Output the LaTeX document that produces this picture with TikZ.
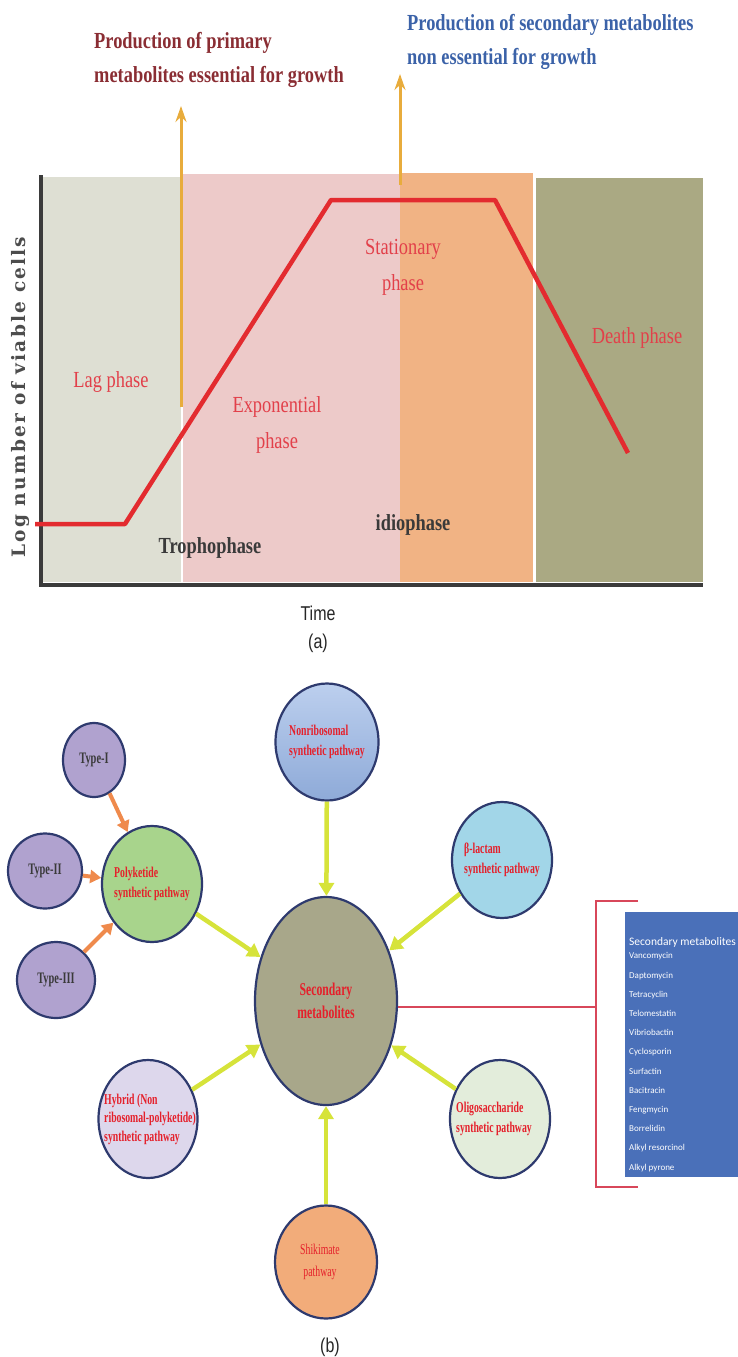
\documentclass[tikz,border=0pt]{standalone}
\usepackage{fontspec}
\usetikzlibrary{arrows.meta, shapes.geometric, calc}

\newfontfamily\headserif[FakeStretch=0.8]{Liberation Serif}
\newfontfamily\bubbleserif[FakeStretch=0.65]{Liberation Serif}
\newfontfamily\axisserif[LetterSpace=12]{DejaVu Serif}
\newfontfamily\captionsans[FakeStretch=0.8]{Liberation Sans}
\newfontfamily\listsans{Carlito}

\definecolor{lagfill}{HTML}{DEDFD3}
\definecolor{expfill}{HTML}{EDCAC9}
\definecolor{statfill}{HTML}{F1B384}
\definecolor{deathfill}{HTML}{AAA983}
\definecolor{axisgray}{HTML}{3B3B3B}
\definecolor{curvered}{HTML}{E32B2F}
\definecolor{arrowgold}{HTML}{E8AC3C}
\definecolor{primred}{HTML}{8A2D33}
\definecolor{secblue}{HTML}{3B62A8}
\definecolor{phasered}{HTML}{E2404A}
\definecolor{stagegray}{HTML}{3A3A3A}
\definecolor{axislabel}{HTML}{4D4D4D}
\definecolor{bubbleedge}{HTML}{2E3A6E}
\definecolor{bubblered}{HTML}{E5202B}
\definecolor{typegray}{HTML}{3A3A3A}
\definecolor{typefill}{HTML}{B0A2CF}
\definecolor{polyfill}{HTML}{A8D48C}
\definecolor{nonribtop}{HTML}{BCCFEE}
\definecolor{nonribbottom}{HTML}{8EAAD8}
\definecolor{betafill}{HTML}{A2D6E8}
\definecolor{secfill}{HTML}{A8A78A}
\definecolor{hybridfill}{HTML}{DDD7EC}
\definecolor{oligofill}{HTML}{E3EDDB}
\definecolor{shikfill}{HTML}{F2AC7A}
\definecolor{feedyellow}{HTML}{D6E33A}
\definecolor{typeorange}{HTML}{EF8A4C}
\definecolor{bracketred}{HTML}{D8475A}
\definecolor{listblue}{HTML}{4A70B9}

\begin{document}
\begin{tikzpicture}[x=1pt, y=-1pt]
    % --- Style Definitions ---
    \tikzset{
        axis line/.style={draw=axisgray, line width=4pt},
        growth curve/.style={draw=curvered, line width=4.5pt, line join=round},
        gold arrow/.style={draw=arrowgold, line width=3pt, -{Stealth[length=16pt, width=11pt]}},
        head text/.style={font=\headserif\bfseries\fontsize{23}{34}\selectfont, align=left, inner sep=0pt},
        phase text/.style={font=\headserif\fontsize{23}{36}\selectfont, text=phasered, align=center, inner sep=0pt},
        stage text/.style={font=\headserif\bfseries\fontsize{23}{28}\selectfont, text=stagegray, inner sep=0pt},
        axis text/.style={font=\axisserif\bfseries\fontsize{18.5}{22}\selectfont, text=axislabel, rotate=90},
        caption text/.style={font=\captionsans\fontsize{20}{24}\selectfont, text=black!85},
        bubble/.style={ellipse, draw=bubbleedge, line width=2.2pt, inner sep=0pt},
        bubble text/.style={font=\bubbleserif\bfseries\fontsize{15}{20}\selectfont, text=bubblered, align=left, inner sep=0pt},
        type text/.style={font=\bubbleserif\bfseries\fontsize{16}{18}\selectfont, text=typegray, inner sep=0pt},
        feed arrow/.style={draw=feedyellow, line width=4.5pt, -{Triangle[length=13pt, width=15pt]}},
        type arrow/.style={draw=typeorange, line width=4pt, -{Triangle[length=11pt, width=13pt]}},
        bracket line/.style={draw=bracketred, line width=1.8pt},
        list box/.style={fill=listblue, inner sep=0pt},
        list title/.style={font=\listsans\fontsize{11.5}{14}\selectfont, text=white, inner sep=0pt},
        list text/.style={font=\listsans\fontsize{9}{19.2}\selectfont, text=white, align=left, inner sep=0pt}
    }

    \useasboundingbox (0,0) rectangle (738,1357);

    % ==========================================
    % (a) GROWTH CURVE
    % ==========================================

    % 1. Phase backgrounds
    \fill[lagfill] (41,177) rectangle (181,582);
    \fill[expfill] (182.5,174) rectangle (400,582);
    \fill[statfill] (400,173) rectangle (533,582);
    \fill[deathfill] (535.5,178) rectangle (703,582);

    % 2. Axes
    \draw[axis line] (41,175) -- (41,585) -- (703,585);

    % 3. Curve
    \draw[growth curve] (35,524) -- (125,524) -- (331,200) -- (495,200) -- (628,453);

    % 4. Metabolite arrows
    \coordinate (prim_foot) at (181,407);
    \coordinate (prim_tip) at (181,106);
    \draw[gold arrow] (prim_foot) -- (prim_tip);

    \coordinate (sec_foot) at (400,185);
    \coordinate (sec_tip) at (400,74);
    \draw[gold arrow] (sec_foot) -- (sec_tip);

    \node[head text, text=primred, anchor=west] (prim_label) at (94,60) {Production of primary\\metabolites essential for growth};
    \node[head text, text=secblue, anchor=west] (sec_label) at (407,42) {Production of secondary metabolites\\non essential for growth};

    % 5. Phase labels
    \node[phase text] (lbl_lag) at (111,382) {Lag phase};
    \node[phase text] (lbl_exp) at (277,425) {Exponential\\phase};
    \node[phase text] (lbl_stat) at (403,267) {Stationary\\phase};
    \node[phase text] (lbl_death) at (637,338) {Death phase};

    \node[stage text] (lbl_tropho) at (210,548) {Trophophase};
    \node[stage text] (lbl_idio) at (413,525) {idiophase};

    % 6. Axis labels
    \node[axis text] (lbl_yaxis) at (21,397) {Log number of viable cells};
    \node[caption text] (lbl_time) at (318,613) {Time};
    \node[caption text] (lbl_a) at (318,643) {(a)};

    % ==========================================
    % (b) BIOSYNTHETIC PATHWAYS
    % ==========================================

    % 1. Bubbles
    \node[bubble, fill=typefill, minimum width=62, minimum height=74] (typeI) at (94,760) {};
    \node[bubble, fill=typefill, minimum width=74, minimum height=75] (typeII) at (45,871) {};
    \node[bubble, fill=typefill, minimum width=78, minimum height=76] (typeIII) at (56,980) {};
    \node[bubble, fill=polyfill, minimum width=100, minimum height=116] (poly) at (152,884) {};
    \node[bubble, top color=nonribtop, bottom color=nonribbottom, minimum width=103, minimum height=117] (nonrib) at (327,742) {};
    \node[bubble, fill=betafill, minimum width=100, minimum height=116] (beta) at (502,860) {};
    \node[bubble, fill=secfill, minimum width=142, minimum height=208] (sec) at (326,1001) {};
    \node[bubble, fill=hybridfill, minimum width=99, minimum height=118] (hybrid) at (148,1119) {};
    \node[bubble, fill=oligofill, minimum width=100, minimum height=118] (oligo) at (500,1119) {};
    \node[bubble, fill=shikfill, minimum width=102, minimum height=113] (shik) at (326,1262) {};

    % 2. Bubble texts
    \node[type text] (typeI_text) at (typeI) {Type-I};
    \node[type text] (typeII_text) at (typeII) {Type-II};
    \node[type text] (typeIII_text) at (typeIII) {Type-III};
    \node[bubble text] (poly_text) at (poly) {Polyketide\\synthetic pathway};
    \node[bubble text] (nonrib_text) at (nonrib) {Nonribosomal\\synthetic pathway};
    \node[bubble text] (beta_text) at (beta) {β-lactam\\synthetic pathway};
    \node[bubble text, font=\bubbleserif\bfseries\fontsize{18}{23}\selectfont, align=center] (sec_text) at (sec) {Secondary\\metabolites};
    \node[bubble text, font=\bubbleserif\bfseries\fontsize{15}{18.5}\selectfont] (hybrid_text) at ([xshift=2pt]hybrid.center) {Hybrid (Non\\ribosomal-polyketide)\\synthetic pathway};
    \node[bubble text] (oligo_text) at ([xshift=-6pt]oligo.center) {Oligosaccharide\\synthetic pathway};
    \node[bubble text, font=\bubbleserif\fontsize{15}{22}\selectfont, align=center] (shik_text) at ([xshift=-6pt]shik.center) {Shikimate\\pathway};

    % 3. Connectors
    \draw[type arrow] (typeI) -- (poly);
    \draw[type arrow] (typeII) -- (poly);
    \draw[type arrow] (typeIII) -- (poly);

    \draw[feed arrow] (poly) -- (sec);
    \draw[feed arrow] (nonrib) -- (sec);
    \draw[feed arrow] (beta) -- (sec);
    \draw[feed arrow] (hybrid) -- (sec);
    \draw[feed arrow] (oligo) -- (sec);
    \draw[feed arrow] (shik) -- (sec);

    % 4. Metabolite list
    \coordinate (brk_top) at (638,901);
    \coordinate (brk_corner) at (596,901);
    \coordinate (brk_foot) at (596,1187);
    \coordinate (brk_bottom) at (638,1187);
    \draw[bracket line] (brk_top) -- (brk_corner) -- (brk_foot) -- (brk_bottom);
    \draw[bracket line] (sec.-5) -- (sec.-5 -| brk_corner);

    \node[list box, anchor=north west, minimum width=113, minimum height=265] (list_box) at (625,912) {};
    \node[list title, anchor=west] (list_title) at (629,942) {Secondary metabolites};
    \node[list text, anchor=north west] (list_items) at (629,952.5) {Vancomycin\\Daptomycin\\Tetracyclin\\Telomestatin\\Vibriobactin\\Cyclosporin\\Surfactin\\Bacitracin\\Fengmycin\\Borrelidin\\Alkyl resorcinol\\Alkyl pyrone};

    \node[caption text] (lbl_b) at (330,1347) {(b)};

\end{tikzpicture}
\end{document}
